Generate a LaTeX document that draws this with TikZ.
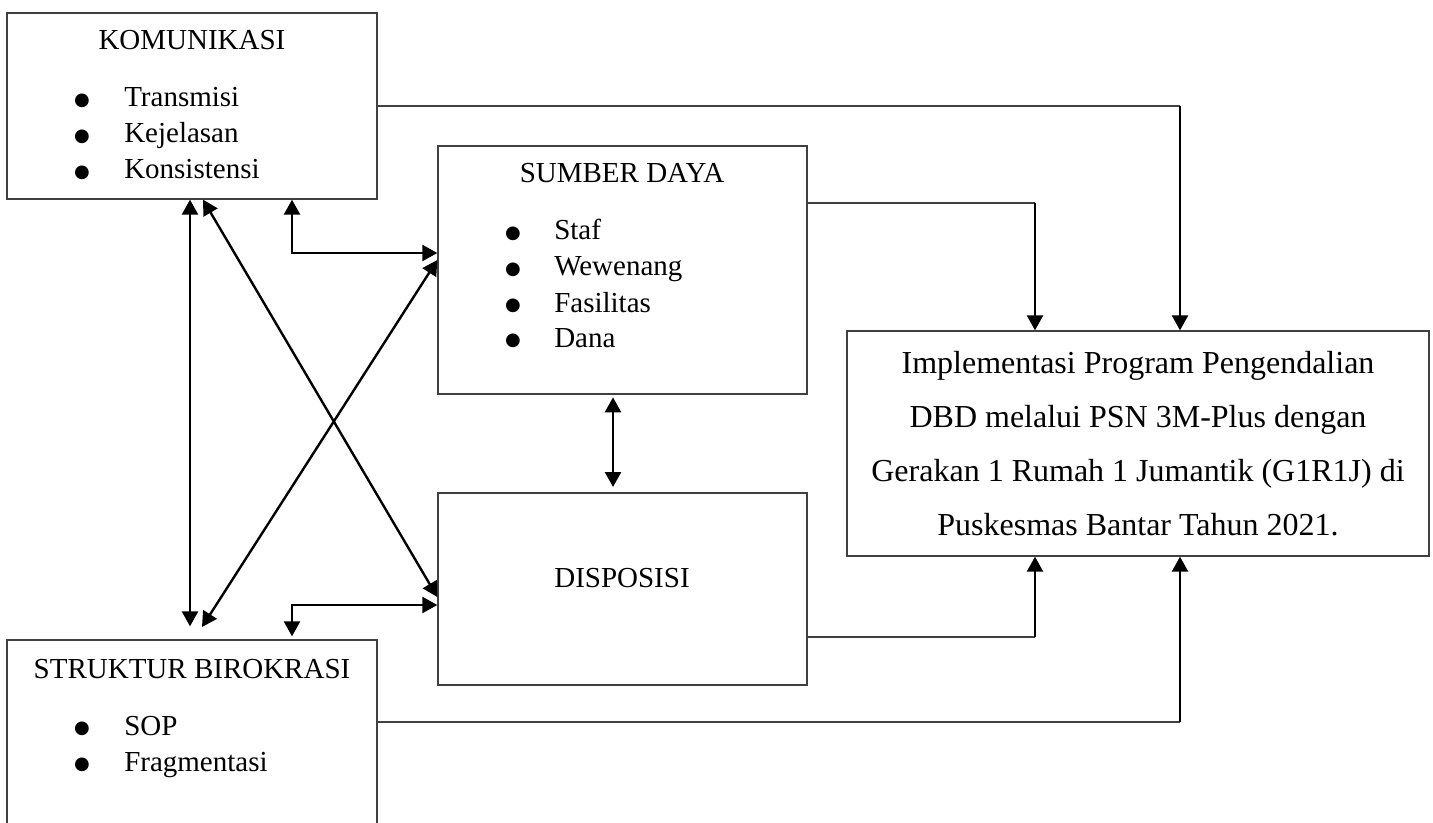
\documentclass[tikz,border=0pt]{standalone}
\usepackage{fontspec}
\setmainfont{Liberation Serif}
\newfontfamily\bulfont{DejaVu Sans}
\usetikzlibrary{arrows.meta}
\begin{document}
\begin{tikzpicture}[x=0.75pt,y=-0.75pt,
  box/.style={draw=black!75, line width=1pt, rectangle, inner sep=0pt},
  lbl/.style={inner sep=0pt, anchor=base, font=\fontsize{21.75pt}{26pt}\selectfont},
  itm/.style={inner sep=0pt, anchor=base west, font=\fontsize{21.75pt}{26pt}\selectfont},
  bul/.style={inner sep=0pt, anchor=base, yshift=1.2pt, font=\bulfont\fontsize{13.5pt}{16pt}\selectfont},
  impltxt/.style={inner sep=0pt, anchor=base, font=\fontsize{24pt}{28pt}\selectfont},
  conn/.style={draw=black!75, line width=1pt},
  tip/.tip={Triangle[length=11.25pt,width=12pt]},
  arr/.style={draw=black, line width=1.8pt, -tip},
  darr/.style={draw=black, line width=1.8pt, tip-tip},
]
\useasboundingbox (0,0) rectangle (1433,823);
\fill[white] (0,0) rectangle (1433,823);
\begin{scope}
\clip (0,0) rectangle (1433,823);
% boxes
\node[box, minimum width=277.5pt, minimum height=139.5pt] (kom) at (192,106) {};
\node[box, minimum width=276.75pt, minimum height=186pt] (sd) at (622.5,270) {};
\node[box, minimum width=276.75pt, minimum height=144pt] (dis) at (622.5,589) {};
\node[box, minimum width=277.5pt, minimum height=150pt] (str) at (192,740) {};
\node[box, minimum width=436.5pt, minimum height=168.75pt] (impl) at (1138,443.5) {};

% KOMUNIKASI
\node[lbl] (komt) at (192,50) {KOMUNIKASI};
\node[bul] (kb1) at (82,107) {●};
\node[bul] (kb2) at (82,143) {●};
\node[bul] (kb3) at (82,179) {●};
\node[itm] (ki1) at (124,107) {Transmisi};
\node[itm] (ki2) at (124,143) {Kejelasan};
\node[itm] (ki3) at (124,179) {Konsistensi};

% SUMBER DAYA
\node[lbl] (sdt) at (622,183) {SUMBER DAYA};
\node[bul] (sb1) at (513,240) {●};
\node[bul] (sb2) at (513,276) {●};
\node[bul] (sb3) at (513,312) {●};
\node[bul] (sb4) at (513,347) {●};
\node[itm] (si1) at (554,240) {Staf};
\node[itm] (si2) at (554,276) {Wewenang};
\node[itm] (si3) at (554,312) {Fasilitas};
\node[itm] (si4) at (554,347) {Dana};

% DISPOSISI
\node[lbl] (dist) at (622,587) {DISPOSISI};

% STRUKTUR BIROKRASI
\node[lbl] (strt) at (192,678) {STRUKTUR BIROKRASI};
\node[bul] (tb1) at (82,735) {●};
\node[bul] (tb2) at (82,771) {●};
\node[itm] (ti1) at (124,735) {SOP};
\node[itm] (ti2) at (124,771) {Fragmentasi};

% Implementasi
\node[impltxt] (il1) at (1138,373) {Implementasi Program Pengendalian};
\node[impltxt] (il2) at (1138,427) {DBD melalui PSN 3M-Plus dengan};
\node[impltxt] (il3) at (1138,481) {Gerakan 1 Rumah 1 Jumantik (G1R1J) di};
\node[impltxt] (il4) at (1138,535) {Puskesmas Bantar Tahun 2021.};

% helper coordinates
\coordinate (c1) at (1180,106);
\coordinate (c2) at (1035,203);
\coordinate (c3) at (1035,637);
\coordinate (c4) at (1180,722);
\coordinate (xa) at (190,0);
\coordinate (xb) at (292,0);
\coordinate (xe) at (613,0);
\coordinate (d1) at (203,0);
\coordinate (d1e) at (0,597);
\coordinate (d2) at (202,627);
\coordinate (d2e) at (0,260);
\coordinate (yb) at (0,253);
\coordinate (yc) at (0,605);

% connectors to Implementasi
\draw[conn] (kom.east |- c1) -- (c1);
\draw[arr] (c1) -- (impl.north -| c1);
\draw[conn] (sd.east |- c2) -- (c2);
\draw[arr] (c2) -- (impl.north -| c2);
\draw[conn] (dis.east |- c3) -- (c3);
\draw[arr] (c3) -- (impl.south -| c3);
\draw[conn] (str.east |- c4) -- (c4);
\draw[arr] (c4) -- (impl.south -| c4);

% mutual connectors
\draw[darr, shorten >=9.75pt] (kom.south -| xa) -- (str.north -| xa);
\draw[darr] (kom.south -| d1) -- (dis.west |- d1e);
\draw[darr] (d2) -- (sd.west |- d2e);
\draw[darr] (kom.south -| xb) |- (sd.west |- yb);
\draw[darr, shorten <=2.25pt] (str.north -| xb) |- (dis.west |- yc);
\draw[darr, shorten <=2pt, shorten >=4pt] (sd.south -| xe) -- (dis.north -| xe);
\end{scope}
\end{tikzpicture}
\end{document}
